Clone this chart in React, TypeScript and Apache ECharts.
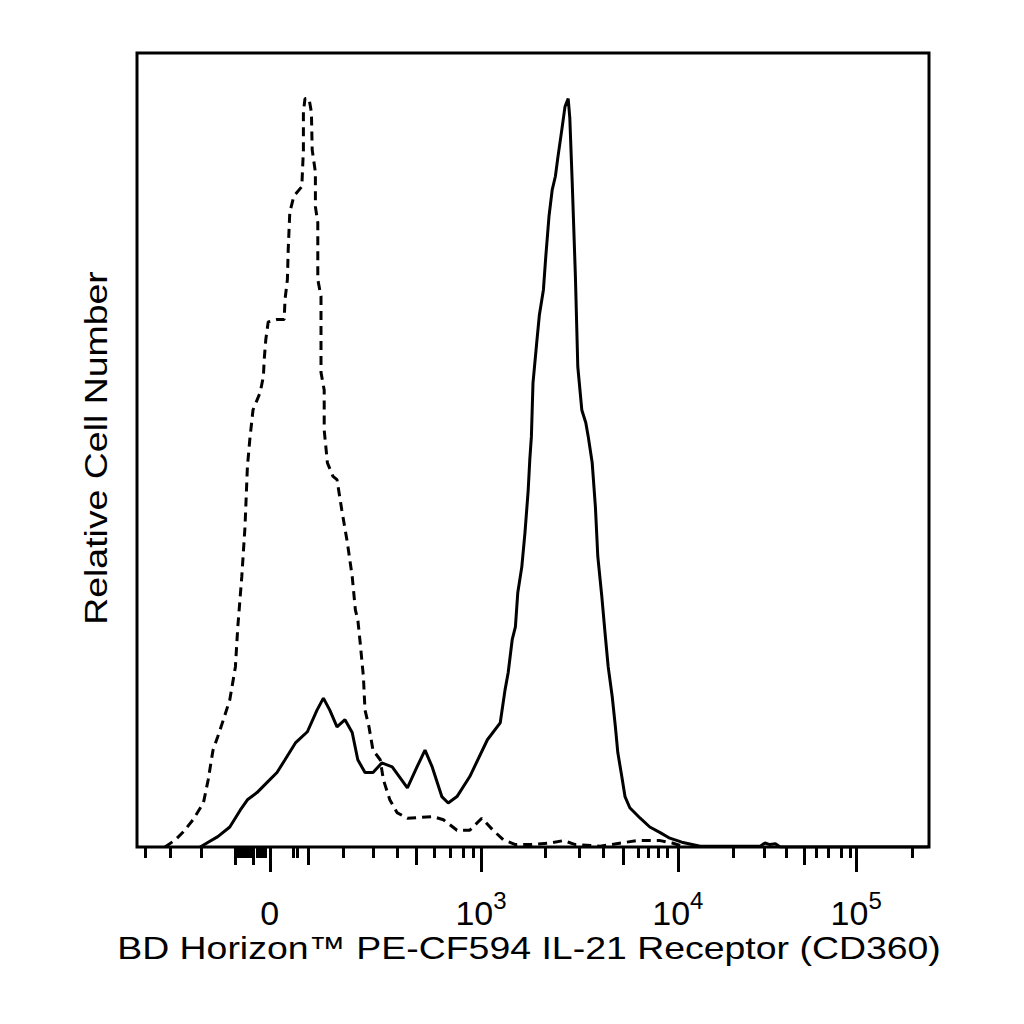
import { useEffect, useRef } from "react";
import * as echarts from "echarts";

// Channel units on the transformed (biexponential) fluorescence axis; counts on y.
const isotypeChannel = [
  35, 48, 58, 70, 83, 89, 95, 101, 108, 116, 123, 126, 131, 135, 138, 141, 145, 154, 158, 159,
  161, 164, 175, 184, 185, 188, 189, 191, 196, 206, 208, 208, 210, 215, 218, 219, 223, 223, 226, 226,
  230, 230, 234, 234, 238, 245, 250, 256, 263, 269, 273, 276, 279, 283, 285, 290, 295, 304, 308, 316,
  325, 338, 370, 383, 400, 416, 431, 445, 458, 473, 491, 516, 533, 548, 579, 625, 654, 669, 685,
];
const isotypeCount = [
  0, 9, 19, 34, 55, 84, 121, 138, 159, 184, 225, 275, 338, 400, 475, 509, 546, 568, 588, 609,
  634, 656, 659, 659, 684, 709, 746, 793, 813, 825, 871, 918, 935, 935, 918, 871, 843, 800, 780, 709,
  688, 593, 571, 521, 480, 463, 459, 421, 380, 338, 296, 284, 255, 213, 171, 150, 121, 109, 84, 59,
  43, 36, 38, 34, 21, 21, 36, 21, 9, 3, 3, 5, 8, 3, 1, 8, 8, 5, 0,
];

const stainedChannel = [
  79, 89, 101, 116, 129, 138, 150, 163, 175, 185, 198, 213, 225, 233, 241, 250, 260, 269, 276, 285,
  295, 306, 319, 338, 350, 360, 369, 381, 389, 400, 416, 438, 454, 460, 464, 469, 473, 476, 481, 485,
  489, 491, 493, 495, 500, 503, 508, 511, 515, 519, 523, 526, 531, 535, 539, 541, 544, 548, 551, 556,
  561, 564, 569, 573, 576, 581, 585, 589, 594, 598, 601, 606, 610, 616, 629, 641, 654, 666, 681, 704,
  779, 785, 791, 798, 804, 989,
];
const stainedCount = [
  0, 6, 13, 25, 46, 59, 68, 81, 93, 109, 130, 144, 171, 186, 171, 150, 159, 143, 109, 93,
  93, 105, 100, 74, 100, 121, 100, 63, 55, 63, 88, 134, 155, 196, 218, 259, 275, 318, 350, 393,
  446, 484, 513, 580, 634, 665, 696, 738, 788, 821, 838, 861, 896, 925, 935, 911, 831, 713, 600, 546,
  530, 513, 480, 425, 363, 313, 268, 225, 188, 150, 118, 88, 63, 49, 36, 25, 18, 11, 6, 1,
  1, 5, 3, 4, 0, 0,
];

// Axis ticks (channel positions) and decade labels
const majorTicks = [166, 430, 676, 899];
const majorExponents = [0, 3, 4, 5];
const mediumTicks = [123, 145, 214, 349, 608, 834];
const minorTicks = [
  10, 41, 80, 126, 128, 131, 133, 136, 138, 141, 150, 153, 155, 158, 160, 195, 200, 258, 295, 325,
  371, 391, 408, 420, 510, 553, 583, 626, 639, 651, 663, 745, 784, 811, 849, 864, 880, 891, 969,
];

const X_TITLE = "BD Horizon™ PE-CF594 IL-21 Receptor (CD360)";
const Y_TITLE = "Relative Cell Number";
const FONT = '"Liberation Sans", Arial, sans-serif';

export default function App() {
  const ref = useRef<HTMLDivElement>(null);

  useEffect(() => {
    document.body.style.margin = "0";
    if (!ref.current) return;
    const chart = echarts.init(ref.current, null, { renderer: "svg" });

    const tickAxis = (values: number[], length: number, labels: boolean) => ({
      type: "value",
      min: 0,
      max: 990,
      position: "bottom",
      axisLine: { show: false },
      splitLine: { show: false },
      axisTick: {
        show: true,
        customValues: values,
        length,
        lineStyle: { color: "#000", width: 3 },
      },
      axisLabel: labels
        ? {
            show: true,
            customValues: values,
            margin: 41,
            fontFamily: FONT,
            fontSize: 34,
            color: "#000",
            formatter: (v: number) => {
              const i = majorTicks.indexOf(Math.round(v));
              const e = majorExponents[i];
              return e ? `{base|10}{sup|${e}}` : "{base|0}";
            },
            rich: {
              base: { fontSize: 34, lineHeight: 50, fontFamily: FONT, color: "#000" },
              sup: { fontSize: 24, lineHeight: 20, verticalAlign: "top", fontFamily: FONT, color: "#000" },
            },
          }
        : { show: false },
    });

    chart.setOption({
      animation: false,
      backgroundColor: "#fff",
      grid: {
        left: 137,
        top: 53,
        width: 792,
        height: 794,
        show: true,
        borderColor: "#000",
        borderWidth: 3,
        backgroundColor: "transparent",
      },
      xAxis: [
        tickAxis(majorTicks, 25, true),
        tickAxis(mediumTicks, 18, false),
        tickAxis(minorTicks, 11, false),
      ],
      yAxis: {
        type: "value",
        min: 0,
        max: 992,
        show: false,
        splitLine: { show: false },
      },
      series: [
        {
          type: "line",
          name: "Isotype",
          data: isotypeChannel.map((c, i) => [c, isotypeCount[i]]),
          showSymbol: false,
          lineStyle: { color: "#000", width: 3, type: [9, 6] },
          z: 3,
        },
        {
          type: "line",
          name: "IL-21R",
          data: stainedChannel.map((c, i) => [c, stainedCount[i]]),
          showSymbol: false,
          lineStyle: { color: "#000", width: 3 },
          z: 4,
        },
      ],
      graphic: [
        {
          type: "text",
          x: 529,
          y: 948,
          scaleX: 1.17,
          style: {
            text: X_TITLE,
            font: `32px ${FONT}`,
            fill: "#000",
            align: "center",
            verticalAlign: "middle",
          },
        },
        {
          type: "text",
          x: 96,
          y: 448,
          rotation: Math.PI / 2,
          scaleX: 1.17,
          style: {
            text: Y_TITLE,
            font: `32px ${FONT}`,
            fill: "#000",
            align: "center",
            verticalAlign: "middle",
          },
        },
      ],
    });

    return () => chart.dispose();
  }, []);

  return <div ref={ref} style={{ width: 1024, height: 1024 }} />;
}
